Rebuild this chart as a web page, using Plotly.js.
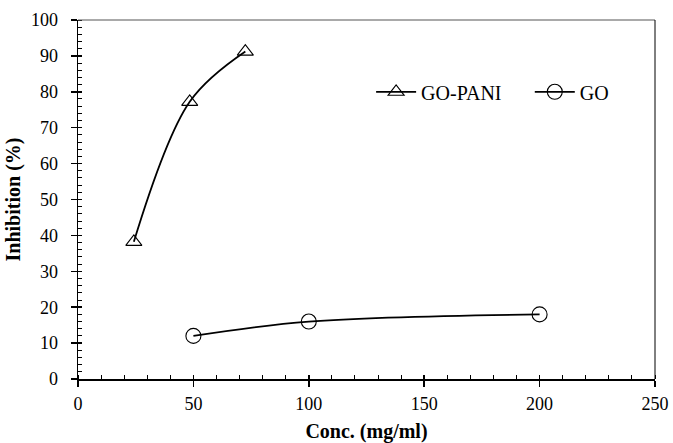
<!DOCTYPE html>
<html>
<head>
<meta charset="utf-8">
<script src="https://cdn.plot.ly/plotly-3.0.1.min.js"></script>
<style>html,body{margin:0;padding:0;background:#fff;}#chart{width:673px;height:443px;}</style>
</head>
<body>
<div id="chart"></div>
<script>
var goPaniConc = [24.2, 48.4, 72.5];
var goPaniInhib = [38.2, 77.2, 91.2];
var goConc = [50, 100, 200];
var goInhib = [12, 16, 18];

var font = 'Liberation Serif';

var traces = [
  {
    x: goPaniConc, y: goPaniInhib, name: 'GO-PANI', type: 'scatter', mode: 'lines+markers',
    legend: 'legend',
    line: {shape: 'spline', smoothing: 1, color: '#000', width: 1.8},
    marker: {symbol: 'triangle-up-open', size: 14, color: '#000', line: {width: 1.1, color: '#000'}}
  },
  {
    x: goConc, y: goInhib, name: 'GO', type: 'scatter', mode: 'lines+markers',
    legend: 'legend2',
    line: {shape: 'spline', smoothing: 1, color: '#000', width: 1.8},
    marker: {symbol: 'circle-open', size: 15, color: '#000', line: {width: 1.1, color: '#000'}}
  },
  {x: [], y: [], xaxis: 'x2', yaxis: 'y2', showlegend: false, hoverinfo: 'skip'}
];

var legendBase = {
  orientation: 'h', yanchor: 'middle', xanchor: 'left', y: 0.8,
  font: {family: font, size: 20, color: '#000'},
  bgcolor: 'rgba(0,0,0,0)', itemwidth: 40
};

var layout = {
  width: 673, height: 443,
  margin: {l: 78, r: 18, t: 20, b: 64},
  paper_bgcolor: '#fff', plot_bgcolor: '#fff',
  font: {family: font, size: 18, color: '#000'},
  showlegend: true,
  legend: Object.assign({}, legendBase, {x: 0.508}),
  legend2: Object.assign({}, legendBase, {x: 0.783}),
  xaxis: {
    range: [0, 250], dtick: 50, tick0: 0, showgrid: false, zeroline: false,
    showline: true, linecolor: '#000', linewidth: 1.5,
    ticks: 'outside', ticklen: 6, tickwidth: 1.5, tickcolor: '#000', ticklabelstandoff: 2,
    minor: {dtick: 10, ticks: 'inside', ticklen: 4, tickwidth: 1, tickcolor: '#000', showgrid: false},
    tickfont: {family: font, size: 18, color: '#000'},
    title: {text: '<b>Conc. (mg/ml)</b>', font: {family: font, size: 20, color: '#000'}, standoff: 11}
  },
  yaxis: {
    range: [0, 100], dtick: 10, tick0: 0, showgrid: false, zeroline: false,
    showline: true, linecolor: '#000', linewidth: 1.5,
    ticks: 'outside', ticklen: 6, tickwidth: 1.5, tickcolor: '#000', ticklabelstandoff: 9,
    minor: {dtick: 2, ticks: 'inside', ticklen: 4, tickwidth: 1, tickcolor: '#000', showgrid: false},
    tickfont: {family: font, size: 18, color: '#000'},
    title: {text: '<b>Inhibition (%)</b>', font: {family: font, size: 20, color: '#000'}, standoff: 5}
  },
  xaxis2: {
    overlaying: 'x', range: [0, 250], dtick: 50, tick0: 0, side: 'bottom', anchor: 'y2',
    showgrid: false, zeroline: false, showline: false, showticklabels: false,
    ticks: 'inside', ticklen: 4, tickwidth: 1.5, tickcolor: '#000'
  },
  yaxis2: {
    overlaying: 'y', range: [0, 100], dtick: 10, tick0: 0, side: 'left', anchor: 'x2',
    showgrid: false, zeroline: false, showline: false, showticklabels: false,
    ticks: 'inside', ticklen: 4, tickwidth: 1.5, tickcolor: '#000'
  },
  shapes: [
    {type: 'line', xref: 'paper', yref: 'paper', x0: 0, x1: 1, y0: 1, y1: 1, line: {color: '#555', width: 1}},
    {type: 'line', xref: 'paper', yref: 'paper', x0: 1, x1: 1, y0: 0, y1: 1, line: {color: '#000', width: 1}}
  ]
};

Plotly.newPlot('chart', traces, layout, {displayModeBar: false, staticPlot: true});
</script>
</body>
</html>
